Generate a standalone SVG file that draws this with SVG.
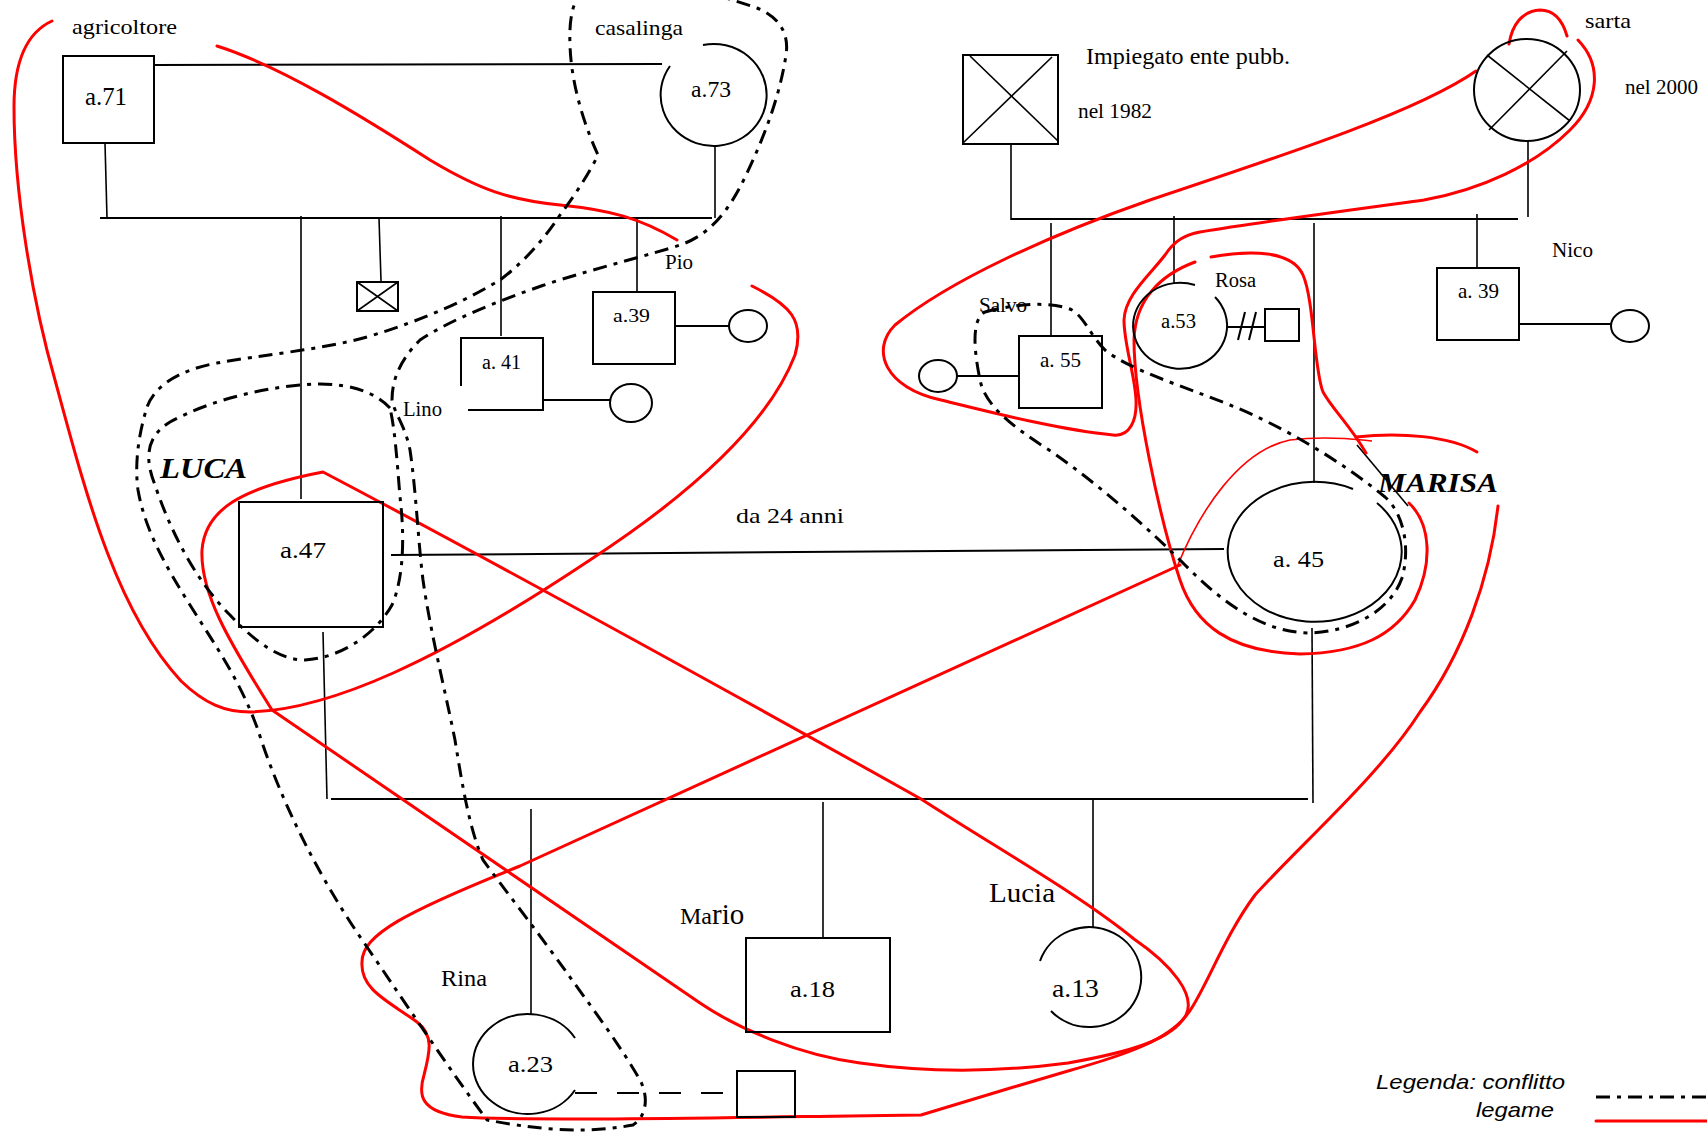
<svg xmlns="http://www.w3.org/2000/svg" width="1707" height="1136" viewBox="0 0 1707 1136">
<style>
.n{fill:none;stroke:#000;stroke-width:2}
.th{fill:none;stroke:#000;stroke-width:1.6}
.t{font-family:"Liberation Serif","Times New Roman",serif;fill:#000}
.bi{font-weight:bold;font-style:italic}
.lg{font-family:"Liberation Sans",Arial,sans-serif;font-style:italic;fill:#000}
.red{fill:none;stroke:#ff0000;stroke-width:3;stroke-linecap:round;stroke-linejoin:round}
.redthin{fill:none;stroke:#ff0000;stroke-width:1.6}
.dd{fill:none;stroke:#000;stroke-width:3;stroke-dasharray:14,7,4,7}
</style>
<rect width="1707" height="1136" fill="#fff"/>

<g id="connectors">
  <!-- left grandparents -->
  <line class="n" x1="154" y1="65" x2="662" y2="64"/>
  <line class="th" x1="105" y1="143" x2="107" y2="218"/>
  <line class="th" x1="715" y1="147" x2="715" y2="218"/>
  <line class="n" x1="100" y1="218" x2="712" y2="218"/>
  <line class="th" x1="301" y1="216" x2="301" y2="499"/>
  <line class="th" x1="379" y1="218" x2="381" y2="281"/>
  <line class="th" x1="501" y1="216" x2="501" y2="336"/>
  <line class="th" x1="637" y1="218" x2="637" y2="292"/>
  <line class="n" x1="676" y1="326" x2="729" y2="326"/>
  <line class="n" x1="543" y1="400" x2="610" y2="400"/>
  <!-- right grandparents -->
  <line class="th" x1="1011" y1="144" x2="1011" y2="220"/>
  <line class="th" x1="1528" y1="141" x2="1528" y2="217"/>
  <line class="n" x1="1011" y1="219" x2="1518" y2="219"/>
  <line class="th" x1="1051" y1="223" x2="1051" y2="336"/>
  <line class="th" x1="1174" y1="216" x2="1174" y2="283"/>
  <line class="th" x1="1314" y1="223" x2="1314" y2="483"/>
  <line class="th" x1="1477" y1="214" x2="1477" y2="268"/>
  <line class="n" x1="1519" y1="324" x2="1611" y2="324"/>
  <line class="n" x1="957" y1="376" x2="1019" y2="376"/>
  <line class="n" x1="1226" y1="327" x2="1265" y2="327"/>
  <line class="n" x1="1238" y1="340" x2="1245" y2="312"/>
  <line class="n" x1="1249" y1="340" x2="1256" y2="312"/>
  <!-- Luca - Marisa -->
  <line class="n" x1="391" y1="555" x2="1224" y2="549"/>
  <line class="th" x1="323" y1="632" x2="327" y2="799"/>
  <line class="th" x1="1312" y1="628" x2="1313" y2="803"/>
  <line class="n" x1="331" y1="799" x2="1308" y2="799"/>
  <line class="th" x1="531" y1="809" x2="531" y2="1015"/>
  <line class="th" x1="823" y1="802" x2="823" y2="938"/>
  <line class="th" x1="1093" y1="800" x2="1093" y2="927"/>
  <line class="n" x1="575" y1="1093" x2="737" y2="1093" stroke-dasharray="22,20"/>
  <line class="th" x1="1357" y1="445" x2="1408" y2="506"/>
</g>

<g id="relations">
  <path class="red" d="M52,21 C28,32 14,60 14,107 C14,190 32,300 55,380 C85,490 115,610 181,681 C205,704 225,712 250,712 C330,710 440,660 590,560 C700,488 770,420 795,355 C805,320 790,305 752,286"/>
  <path class="red" d="M217,46 C280,66 360,115 430,160 C480,190 510,200 560,205 C610,210 640,218 677,240"/>
  <path class="red" d="M323,472 C240,488 205,510 202,550 C200,592 228,640 272,710 L700,1003 C740,1030 800,1055 860,1063 C930,1073 1000,1072 1068,1063 C1130,1052 1172,1040 1186,1015 C1196,995 1172,965 1134,939 C1080,895 1000,850 921,799 C780,720 500,565 323,472 Z"/>
  <path class="red" d="M1498,506 C1490,580 1462,655 1420,712 C1380,775 1300,845 1255,895 C1225,935 1205,990 1189,1012 C1170,1040 1125,1055 1068,1071 C1020,1085 960,1103 921,1115 L850,1116 C700,1118 520,1121 462,1117 C420,1112 418,1095 424,1075 C430,1052 434,1035 417,1022 C390,1002 360,990 362,962 C362,935 405,912 520,866 L1180,565"/>
  <path class="red" d="M1211,257 C1250,250 1292,250 1303,275 C1314,300 1314,370 1323,392 C1333,410 1350,425 1366,453"/>
  <path class="red" d="M1195,262 C1160,275 1135,300 1134,340 C1134,400 1160,520 1180,580 C1195,625 1230,652 1300,654 C1360,653 1395,635 1415,600 C1432,565 1432,525 1409,503"/>
  <path class="redthin" d="M1177,567 C1200,510 1240,450 1290,440 C1330,435 1360,440 1372,441"/>
  <path class="red" d="M1356,437 C1400,432 1450,436 1477,452"/>
  <path class="red" d="M1476,71 C1420,110 1300,150 1150,200 C1050,235 950,280 895,325 C870,350 885,388 941,400 C990,412 1060,430 1113,435 C1130,437 1137,420 1136,400 C1135,375 1124,345 1124,320 C1125,295 1150,275 1165,255 C1175,240 1185,235 1200,232 C1260,222 1350,210 1424,200 C1480,190 1535,165 1570,130 C1600,100 1602,65 1578,40"/>
  <path class="red" d="M1509,44 C1512,25 1522,11 1540,10 C1556,10 1563,22 1567,36"/>

  <path class="dd" d="M585,-12 C572,0 569,20 570,45 C571,80 582,120 598,155 C590,172 575,195 560,215 C540,245 520,265 500,280 C470,298 430,318 367,337 C320,350 260,355 217,363 C180,370 155,385 147,407 C140,430 134,460 138,490 C145,530 165,565 190,605 C215,645 240,680 258,730 C280,800 320,880 367,947 C410,1010 450,1070 487,1120 C530,1128 580,1135 633,1125 C648,1115 648,1095 640,1080 C620,1045 590,1005 567,973 C540,935 505,890 483,860 C470,830 463,790 455,740 C445,690 430,630 423,580 C418,540 416,490 410,450 C405,425 395,415 392,400 C392,380 400,360 420,340 C450,320 500,300 550,283 C600,267 650,255 680,245 C710,235 730,210 747,173 C765,135 780,95 786,55 C790,30 775,15 757,8 C740,2 720,-3 700,-12"/>
  <path class="dd" d="M390,408 C375,392 350,384 320,384 C270,385 210,400 170,422 C145,437 145,460 155,485 C170,530 195,580 230,615 C255,642 280,660 305,660 C340,658 375,635 392,605 C405,575 404,530 400,497 C397,460 395,430 390,408 Z"/>
  <path class="dd" d="M985,312 C1010,305 1050,300 1072,310 C1085,318 1090,335 1105,350 C1130,370 1180,385 1230,405 C1280,425 1340,460 1385,497 C1405,515 1410,550 1402,578 C1390,612 1350,632 1309,633 C1260,632 1220,600 1185,565 C1150,530 1100,485 1049,450 C1010,425 985,405 980,380 C975,355 970,320 985,312 Z"/>
</g>

<g id="n-a71">
  <rect class="n" x="63" y="56" width="91" height="87"/>
  <text class="t" x="85" y="105" font-size="25" textLength="42" lengthAdjust="spacingAndGlyphs">a.71</text>
  <text class="t" x="72" y="34" font-size="21" textLength="105" lengthAdjust="spacingAndGlyphs">agricoltore</text>
</g>
<g id="n-a73">
  <path class="n" d="M703,45 A53,51 0 1,1 670,66"/>
  <text class="t" x="691" y="97" font-size="23" textLength="40" lengthAdjust="spacingAndGlyphs">a.73</text>
  <text class="t" x="595" y="35" font-size="21" textLength="88" lengthAdjust="spacingAndGlyphs">casalinga</text>
</g>
<g id="n-dead">
  <rect class="n" x="357" y="282" width="41" height="29"/>
  <line class="th" x1="357" y1="282" x2="398" y2="311"/>
  <line class="th" x1="398" y1="282" x2="357" y2="311"/>
</g>
<g id="n-lino">
  <path class="n" d="M461,386 L461,338 L543,338 L543,410 L468,410"/>
  <text class="t" x="482" y="369" font-size="20" textLength="39" lengthAdjust="spacingAndGlyphs">a. 41</text>
  <text class="t" x="403" y="416" font-size="20" textLength="39" lengthAdjust="spacingAndGlyphs">Lino</text>
</g>
<g id="n-lino-w"><ellipse class="n" cx="631" cy="403" rx="21" ry="19"/></g>
<g id="n-pio">
  <rect class="n" x="593" y="292" width="82" height="72"/>
  <text class="t" x="613" y="322" font-size="19" textLength="37" lengthAdjust="spacingAndGlyphs">a.39</text>
  <text class="t" x="665" y="269" font-size="20" textLength="28" lengthAdjust="spacingAndGlyphs">Pio</text>
</g>
<g id="n-pio-w"><ellipse class="n" cx="748" cy="326" rx="19" ry="16"/></g>
<g id="n-luca">
  <rect class="n" x="239" y="502" width="144" height="125"/>
  <text class="t" x="280" y="558" font-size="24" textLength="46" lengthAdjust="spacingAndGlyphs">a.47</text>
  <text class="t bi" x="160" y="478" font-size="30" textLength="87" lengthAdjust="spacingAndGlyphs">LUCA</text>
</g>
<text class="t" x="736" y="523" font-size="21" textLength="108" lengthAdjust="spacingAndGlyphs">da 24 anni</text>

<g id="n-impiegato">
  <rect class="n" x="963" y="55" width="95" height="89"/>
  <line class="th" x1="970" y1="56" x2="1058" y2="141"/>
  <line class="th" x1="963" y1="143" x2="1052" y2="57"/>
  <text class="t" x="1086" y="64" font-size="23" textLength="204" lengthAdjust="spacingAndGlyphs">Impiegato ente pubb.</text>
  <text class="t" x="1078" y="118" font-size="20" textLength="74" lengthAdjust="spacingAndGlyphs">nel 1982</text>
</g>
<g id="n-sarta">
  <ellipse class="n" cx="1527" cy="90" rx="53" ry="51"/>
  <line class="th" x1="1487" y1="55" x2="1570" y2="121"/>
  <line class="th" x1="1567" y1="51" x2="1489" y2="130"/>
  <text class="t" x="1585" y="28" font-size="21" textLength="46" lengthAdjust="spacingAndGlyphs">sarta</text>
  <text class="t" x="1625" y="94" font-size="20" textLength="73" lengthAdjust="spacingAndGlyphs">nel 2000</text>
</g>
<g id="n-salvo">
  <rect class="n" x="1019" y="336" width="83" height="72"/>
  <text class="t" x="1040" y="367" font-size="21" textLength="41" lengthAdjust="spacingAndGlyphs">a. 55</text>
  <text class="t" x="979" y="312" font-size="20" textLength="48" lengthAdjust="spacingAndGlyphs">Salvo</text>
</g>
<g id="n-salvo-w"><ellipse class="n" cx="938" cy="376" rx="19" ry="16"/></g>
<g id="n-rosa">
  <path class="n" d="M1215,297 A47,43 0 1,1 1195,285"/>
  <text class="t" x="1161" y="328" font-size="20" textLength="35" lengthAdjust="spacingAndGlyphs">a.53</text>
  <text class="t" x="1215" y="287" font-size="20" textLength="41" lengthAdjust="spacingAndGlyphs">Rosa</text>
</g>
<g id="n-rosa-h"><rect class="n" x="1265" y="309" width="34" height="32"/></g>
<g id="n-nico">
  <rect class="n" x="1437" y="268" width="82" height="72"/>
  <text class="t" x="1458" y="298" font-size="21" textLength="41" lengthAdjust="spacingAndGlyphs">a. 39</text>
  <text class="t" x="1552" y="257" font-size="20" textLength="41" lengthAdjust="spacingAndGlyphs">Nico</text>
</g>
<g id="n-nico-w"><ellipse class="n" cx="1630" cy="326" rx="19" ry="16"/></g>
<g id="n-marisa">
  <path class="n" d="M1377,503 A87,70 0 1,1 1353,489"/>
  <text class="t" x="1273" y="567" font-size="24" textLength="51" lengthAdjust="spacingAndGlyphs">a. 45</text>
  <text class="t bi" x="1378" y="492" font-size="28" textLength="120" lengthAdjust="spacingAndGlyphs">MARISA</text>
</g>
<g id="n-rina">
  <path class="n" d="M575,1038 A55,50 0 1,0 575,1090"/>
  <text class="t" x="508" y="1072" font-size="24" textLength="45" lengthAdjust="spacingAndGlyphs">a.23</text>
  <text class="t" x="441" y="986" font-size="24" textLength="46" lengthAdjust="spacingAndGlyphs">Rina</text>
</g>
<g id="n-rina-p"><rect class="n" x="737" y="1071" width="58" height="46"/></g>
<g id="n-mario">
  <rect class="n" x="746" y="938" width="144" height="94"/>
  <text class="t" x="790" y="997" font-size="24" textLength="45" lengthAdjust="spacingAndGlyphs">a.18</text>
  <text class="t" x="680" y="924"><tspan font-size="24">Ma</tspan><tspan font-size="29">rio</tspan></text>
</g>
<g id="n-lucia">
  <path class="n" d="M1040,961 A52,50 0 1,1 1051,1011"/>
  <text class="t" x="1052" y="997" font-size="25" textLength="47" lengthAdjust="spacingAndGlyphs">a.13</text>
  <text class="t" x="989" y="902" font-size="27" textLength="66" lengthAdjust="spacingAndGlyphs">Lucia</text>
</g>

<g id="legend">
  <text class="lg" x="1376" y="1089" font-size="21" textLength="189" lengthAdjust="spacingAndGlyphs">Legenda: conflitto</text>
  <text class="lg" x="1476" y="1117" font-size="21" textLength="78" lengthAdjust="spacingAndGlyphs">legame</text>
  <line class="dd" x1="1596" y1="1097" x2="1707" y2="1097"/>
  <line class="red" x1="1596" y1="1121" x2="1707" y2="1121" stroke-linecap="butt"/>
</g>
</svg>
